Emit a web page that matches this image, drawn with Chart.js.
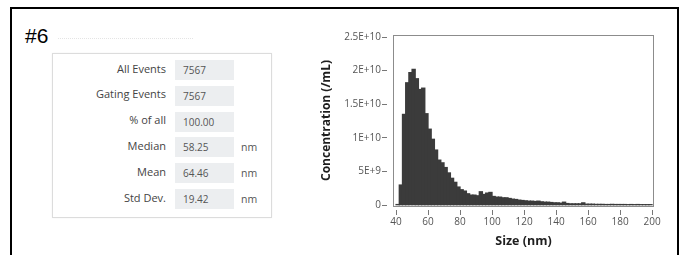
<!DOCTYPE html>
<html>
<head>
<meta charset="utf-8">
<script src="https://cdn.jsdelivr.net/npm/chart.js@4/dist/chart.umd.min.js"></script>
<style>
  html, body { margin:0; padding:0; background:#fff; }
  body { width:688px; height:255px; position:relative; overflow:hidden; font-family:"Open Sans", "Noto Sans", sans-serif; }
  .frame { position:absolute; left:10px; top:7px; width:669px; height:270px; border:2px solid #000; box-sizing:border-box; }
  .tag { position:absolute; left:25px; top:25px; font-family:"Liberation Sans", Arial, sans-serif; font-size:21px; line-height:21px; color:#000; }
  .dots { position:absolute; left:58px; top:38px; width:135px; border-top:1px dotted #e4e4e4; }
  .panel { position:absolute; left:52px; top:53px; width:220px; height:165px; border:1px solid #dcdcdc; box-sizing:border-box; background:#fff; box-shadow:0 0 2px rgba(0,0,0,0.05); }
  .lbl { position:absolute; left:60px; width:106px; text-align:right; font-size:11px; line-height:20px; color:#444; white-space:nowrap; }
  .val { position:absolute; left:175px; width:59px; height:20px; background:#eceef0; font-size:10px; line-height:21px; color:#555; padding-left:8px; box-sizing:border-box; }
  .unit { position:absolute; left:241px; font-size:10.5px; line-height:21px; color:#555; }
  canvas { position:absolute; left:0; top:0; }
</style>
</head>
<body>
<div class="frame"></div>
<div class="tag">#6</div>
<div class="dots"></div>
<div class="panel"></div>
<div id="rows"></div>
<canvas id="c" width="688" height="255"></canvas>
<script>
// ---- summary table ----
const statLabels = ["All Events", "Gating Events", "% of all", "Median", "Mean", "Std Dev."];
const statValues = ["7567", "7567", "100.00", "58.25", "64.46", "19.42"];
const statUnits  = ["", "", "", "nm", "nm", "nm"];

// ---- histogram ----
const sizeBins = [41,43,45,47,49,51,53,55,57,59,61,63,65,67,69,71,73,75,77,79,
                  81,83,85,87,89,91,93,95,97,99,101,103,105,107,109,111,113,115,117,119,
                  121,123,125,127,129,131,133,135,137,139,141,143,145,147,149,151,153,155,157,159,
                  161,163,165,167,169,171,173,175,177,179,181,183,185,187,189,191,193,195,197,199];
const concentration = [0.01e10,0.30e10,1.35e10,1.82e10,1.97e10,2.02e10,1.88e10,1.72e10,1.74e10,1.36e10,
                       1.13e10,0.98e10,0.82e10,0.67e10,0.63e10,0.56e10,0.48e10,0.40e10,0.34e10,0.27e10,
                       0.23e10,0.21e10,0.17e10,0.15e10,0.15e10,0.14e10,0.20e10,0.16e10,0.18e10,0.19e10,
                       0.13e10,0.12e10,0.12e10,0.11e10,0.11e10,0.10e10,0.09e10,0.085e10,0.075e10,0.07e10,
                       0.065e10,0.06e10,0.06e10,0.055e10,0.06e10,0.05e10,0.045e10,0.045e10,0.04e10,0.035e10,
                       0.035e10,0.03e10,0.045e10,0.025e10,0.02e10,0.02e10,0.02e10,0.02e10,0.035e10,0.015e10,
                       0.015e10,0.015e10,0.012e10,0.012e10,0.012e10,0.01e10,0.01e10,0.012e10,0.01e10,0.01e10,
                       0.01e10,0.01e10,0.008e10,0.01e10,0.008e10,0.01e10,0.008e10,0.008e10,0.008e10,0.008e10];
const xTickValues = [40,60,80,100,120,140,160,180,200];
const yTickValues = [0, 5e9, 1e10, 1.5e10, 2e10, 2.5e10];
const xTitle = "Size (nm)";
const yTitle = "Concentration (/mL)";

// build table
const rows = document.getElementById('rows');
statLabels.forEach((l, i) => {
  const top = 60 + i * 25.8;
  const a = document.createElement('div'); a.className = 'lbl'; a.style.top = (top - 1.5) + 'px'; a.textContent = l; rows.appendChild(a);
  const b = document.createElement('div'); b.className = 'val'; b.style.top = top + 'px'; b.textContent = statValues[i]; rows.appendChild(b);
  if (statUnits[i]) { const c = document.createElement('div'); c.className = 'unit'; c.style.top = top + 'px'; c.textContent = statUnits[i]; rows.appendChild(c); }
});

const boxPlugin = {
  id: 'plotBox',
  afterDatasetsDraw(chart) {
    const {ctx, chartArea: a} = chart;
    ctx.save();
    ctx.strokeStyle = '#8c8c8c';
    ctx.lineWidth = 1;
    ctx.strokeRect(Math.round(a.left) + 0.5, Math.round(a.top) + 0.5, Math.round(a.right - a.left) - 1, Math.round(a.bottom - a.top));
    ctx.restore();
  }
};

function fmtE(v) {
  if (v === 0) return '0';
  return v.toExponential().replace('e', 'E');
}

new Chart(document.getElementById('c'), {
  type: 'bar',
  data: {
    datasets: [{
      data: sizeBins.map((x, i) => ({x: x, y: concentration[i]})),
      backgroundColor: '#3b3b3b',
      borderWidth: 0,
      inflateAmount: 0.6,
      barPercentage: 1.0,
      categoryPercentage: 1.0,
      grouped: false
    }]
  },
  options: {
    responsive: false,
    animation: false,
    devicePixelRatio: 1,
    layout: { padding: { left: 300, right: 34, top: 35, bottom: 0 } },
    plugins: { legend: { display: false }, tooltip: { enabled: false } },
    scales: {
      x: {
        type: 'linear',
        offset: false,
        min: 38.1, max: 201.2,
        afterBuildTicks: s => { s.ticks = xTickValues.map(v => ({value: v})); },
        afterFit: s => { s.height = 49; },
        border: { display: false },
        grid: { offset: false, drawOnChartArea: false, drawTicks: true, tickLength: 9, tickColor: '#777', tickBorderDash: [5, 4], tickBorderDashOffset: 5 },
        ticks: { padding: 1, maxRotation: 0, autoSkip: false, color: '#555', font: { family: '"Open Sans"', size: 10 } },
        title: { display: true, text: xTitle, color: '#1e1e1e', font: { family: '"Open Sans"', size: 12.5, weight: 'bold' }, padding: { top: 0, bottom: 6 } }
      },
      y: {
        min: -1.2e8, max: 2.53e10,
        afterBuildTicks: s => { s.ticks = yTickValues.map(v => ({value: v})); },
        afterFit: s => { s.width = 93; },
        border: { display: false },
        grid: { drawOnChartArea: false, drawTicks: true, tickLength: 11, tickColor: '#777', tickBorderDash: [5, 20] },
        ticks: { padding: 1, autoSkip: false, color: '#555', font: { family: '"Open Sans"', size: 10 }, callback: v => fmtE(v) },
        title: { display: true, text: yTitle, color: '#1e1e1e', font: { family: '"Open Sans"', size: 12, weight: 'bold' }, padding: { top: 19, bottom: 0 } }
      }
    }
  },
  plugins: [boxPlugin]
});
</script>
</body>
</html>
